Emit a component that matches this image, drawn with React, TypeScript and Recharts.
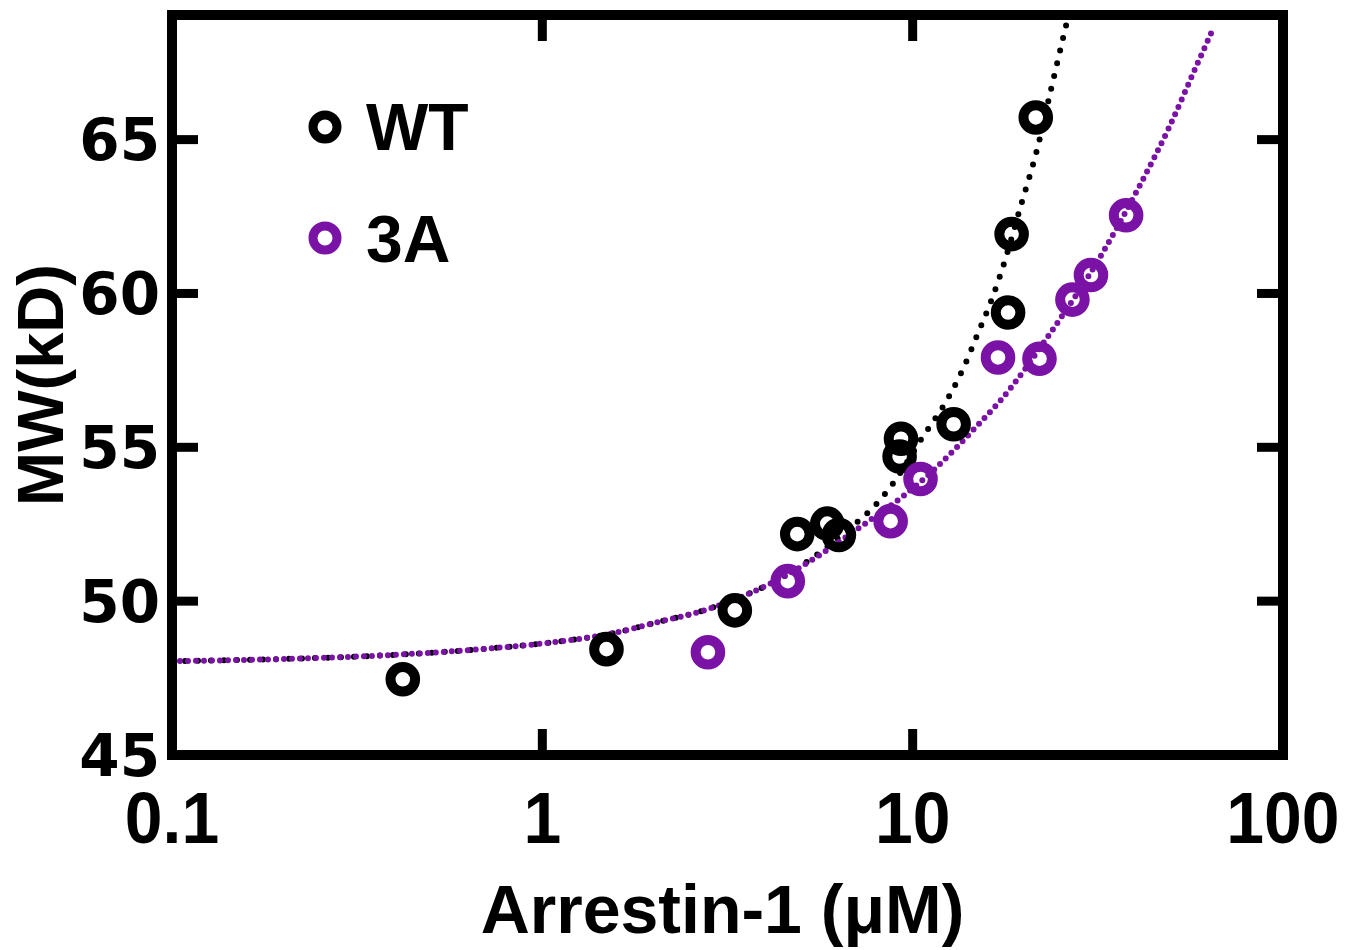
import { ComposedChart, Line, Scatter, XAxis, YAxis, Legend, Label } from "recharts";

// axis ticks
const X_TICKS = [0.1, 1, 10, 100];
const Y_TICKS = [45, 50, 55, 60, 65];

// measured points
const WT_X = [0.42, 1.49, 3.31, 4.88, 5.88, 6.32, 9.22, 9.3, 12.9, 18.1, 18.5, 21.5];
const WT_Y = [47.46, 48.44, 49.7, 52.18, 52.52, 52.15, 54.7, 55.28, 55.75, 59.38, 61.93, 65.72];
const A3_X = [2.8, 4.6, 8.72, 10.5, 17.0, 22.0, 27.0, 30.3, 37.7];
const A3_Y = [48.34, 50.65, 52.6, 53.97, 57.92, 57.88, 59.8, 60.6, 62.54];

// fitted curves
const FIT_WT_X = [0.1, 0.2, 0.42, 0.7, 1.13, 1.5, 2.1, 2.7, 3.3, 4.1, 5.0, 6.0, 6.9, 7.9, 8.7, 10.6, 12.6, 13.8, 15.0, 16.4, 17.3, 19.7, 21.7, 23.6, 26.0];
const FIT_WT_Y = [48.05, 48.12, 48.27, 48.45, 48.7, 48.92, 49.35, 49.68, 50.05, 50.55, 51.15, 51.85, 52.45, 53.1, 53.7, 55.3, 56.7, 57.65, 58.7, 59.85, 60.65, 62.95, 64.7, 66.6, 68.75];
const FIT_3A_X = [0.1, 0.2, 0.42, 0.7, 1.13, 1.5, 2.1, 2.7, 3.3, 4.1, 5.0, 6.2, 7.3, 9.4, 11.6, 15.2, 17.2, 23.5, 32.5, 40.8, 49, 58.4, 64.2];
const FIT_3A_Y = [48.05, 48.12, 48.27, 48.45, 48.7, 48.92, 49.35, 49.68, 50.05, 50.55, 51.12, 51.85, 52.45, 53.4, 54.35, 55.8, 56.5, 58.7, 61.3, 63.45, 65.34, 67.4, 68.5];

const SERIES = ["WT", "3A"];
const COLORS: Record<string, string> = { WT: "#000000", "3A": "#7b12a6" };

const zip = (xs: number[], ys: number[]) => xs.map((x, i) => ({ x, y: ys[i] }));

const WIDE = "'DejaVu Sans', sans-serif";
const SANS = "'Liberation Sans', Arial, sans-serif";

const ring = (color: string) => (p: any) =>
  <circle cx={p.cx} cy={p.cy} r={12.3} fill="none" stroke={color} strokeWidth={10} />;

const XTick = ({ x, y, payload }: any) => (
  <text x={x} y={y} dy="0.72em" textAnchor="middle" fontFamily={SANS} fontWeight={700} fontSize={73}
    fill="#000" transform={`translate(${x} 0) scale(0.93 1) translate(${-x} 0)`}>
    {payload.value}
  </text>
);

const YTick = ({ x, y, payload }: any) => (
  <text x={x} y={y} dy="0.36em" textAnchor="end" fontFamily={WIDE} fontWeight={700} fontSize={58} fill="#000">
    {payload.value}
  </text>
);

// tick marks only, no label (top and right sides of the box)
const NoLabel = () => <g />;

const renderLegend = () => (
  <svg width={260} height={200} style={{ overflow: "visible" }}>
    {SERIES.map((name, i) => (
      <g key={name}>
        <circle cx={25} cy={25 + i * 111} r={12} fill="none" stroke={COLORS[name]} strokeWidth={9} />
        <text x={66} y={48 + i * 112} fontFamily={SANS} fontWeight={700} fontSize={66} fill="#000">{name}</text>
      </g>
    ))}
  </svg>
);

const frame = { stroke: "#000", strokeWidth: 10, strokeLinecap: "square" as const };
const tickStroke = { stroke: "#000", strokeWidth: 9 };

export default function App() {
  return (
    <div style={{ position: "absolute", left: 0, top: 0, background: "#fff" }}>
      <ComposedChart width={1358} height={950} margin={{ top: 14, right: 74, bottom: 0, left: 0 }}>
        <XAxis
          xAxisId="b" type="number" dataKey="x" scale="log" domain={[0.1, 100]} ticks={X_TICKS}
          allowDataOverflow height={195} interval={0}
          axisLine={frame} tickLine={tickStroke} tickSize={-26} tickMargin={61} tick={<XTick />}
        >
          <Label
            content={({ viewBox }: any) => (
              <text x={viewBox.x + viewBox.width / 2 - 5} y={viewBox.y + 178} textAnchor="middle"
                fontFamily={SANS} fontWeight={700} fontSize={68} fill="#000">
                Arrestin-1 (μM)
              </text>
            )}
          />
        </XAxis>
        <XAxis
          xAxisId="t" orientation="top" type="number" dataKey="x" scale="log" domain={[0.1, 100]} ticks={X_TICKS}
          allowDataOverflow height={1} interval={0}
          axisLine={frame} tickLine={tickStroke} tickSize={-26} tick={NoLabel}
        />
        <YAxis
          yAxisId="l" type="number" domain={[45, 69.05]} ticks={Y_TICKS} allowDataOverflow width={172} interval={0}
          axisLine={frame} tickLine={tickStroke} tickSize={-26} tickMargin={38} tick={<YTick />}
        >
          <Label
            content={({ viewBox }: any) => {
              const cx = viewBox.x + 63;
              const cy = viewBox.y + viewBox.height / 2;
              return (
                <text x={cx} y={cy} transform={`rotate(-90 ${cx} ${cy})`} textAnchor="middle"
                  fontFamily={SANS} fontWeight={700} fontSize={65} fill="#000">
                  MW(kD)
                </text>
              );
            }}
          />
        </YAxis>
        <YAxis
          yAxisId="r" orientation="right" type="number" domain={[45, 69.05]} ticks={Y_TICKS} allowDataOverflow width={1}
          interval={0} axisLine={frame} tickLine={tickStroke} tickSize={-26} tick={NoLabel}
        />
        <Legend
          layout="vertical" align="center" verticalAlign="middle"
          wrapperStyle={{ left: 300, top: 102, width: 260, height: 200 }}
          content={renderLegend}
        />
        <Scatter name="WT" data={zip(WT_X, WT_Y)} dataKey="y" xAxisId="b" yAxisId="l"
          fill={COLORS.WT} shape={ring(COLORS.WT)} isAnimationActive={false} />
        <Scatter name="3A" data={zip(A3_X, A3_Y)} dataKey="y" xAxisId="b" yAxisId="l"
          fill={COLORS["3A"]} shape={ring(COLORS["3A"])} isAnimationActive={false} />
        {/* WT fit sits on the top/right axes (same scales) so the box frame gets drawn */}
        <Line data={zip(FIT_WT_X, FIT_WT_Y)} dataKey="y" xAxisId="t" yAxisId="r" type="monotone"
          stroke={COLORS.WT} strokeWidth={6} strokeDasharray="0 13" strokeLinecap="round"
          dot={false} activeDot={false} legendType="none" isAnimationActive={false} />
        <Line data={zip(FIT_3A_X, FIT_3A_Y)} dataKey="y" xAxisId="b" yAxisId="l" type="monotone"
          stroke={COLORS["3A"]} strokeWidth={6} strokeDasharray="0 8" strokeLinecap="round"
          dot={false} activeDot={false} legendType="none" isAnimationActive={false} />
      </ComposedChart>
    </div>
  );
}
